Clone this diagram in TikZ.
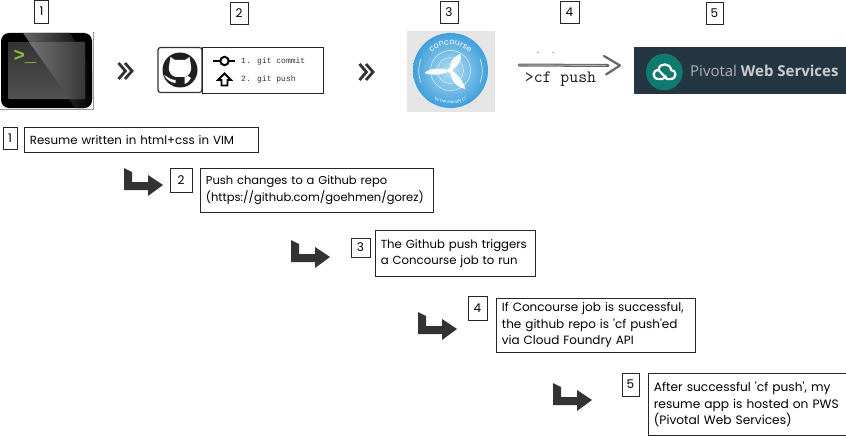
\documentclass[tikz,border=0pt]{standalone}
\usepackage{fontspec}
\setmainfont{Poppins}
\newfontfamily\monofont{Liberation Mono}
\newfontfamily\pwsfont{Open Sans}
\usetikzlibrary{decorations.text}
\definecolor{inkdark}{HTML}{333333}
\definecolor{pwsdark}{HTML}{243642}
\definecolor{pwsgreen}{HTML}{0F7B6E}
\definecolor{courseblue}{HTML}{3E9FDC}
\definecolor{coursepale}{HTML}{B5DDF2}
\definecolor{promptgreen}{HTML}{8CBF3F}
\tikzset{
  numbox/.style={draw=black!85,line width=0.8pt,inner sep=0pt,font=\fontsize{12}{13}\selectfont},
  textbox/.style={draw=black!85,line width=0.8pt,anchor=north west,align=left,inner xsep=5.5pt,inner ysep=0pt,font=\fontsize{#1}{16.5}\selectfont},
  blade/.style={fill=white,draw=none,opacity=0.92},
}
\newcommand{\bentarrow}[2]{
  \fill[inkdark,shift={(#1,#2)}] (0,0) -- (8,4) -- (8,14) -- (24,14) -- (24,7) -- (39,17) -- (24,28) -- (24,22) -- (0,22) -- cycle;
}
\newcommand{\dblchevron}[2]{
  \draw[inkdark,line width=2.8pt,shift={(#1,#2)}] (0,1) -- (7,9) -- (0,17) (6.5,1) -- (13.5,9) -- (6.5,17);
}
\begin{document}
\begin{tikzpicture}[x=1pt,y=-1pt]
  \useasboundingbox (0,0) rectangle (846,436);
  % top numbers
  \foreach \name/\cx/\cy/\w/\h/\num in {top1/41.5/11.5/14/23/1,top2/239/13/18/22/2,top3/449/12/18/22/3,top4/569.5/12/19/22/4,top5/714.5/13/17/22/5}
    \node[numbox,minimum width=\w pt,minimum height=\h pt] (\name) at (\cx,\cy) {\num};
  % terminal
  \draw[black!40,line width=0.5pt] (93,32) -- (93,109) -- (0,109);
  \fill[black,rounded corners=8pt] (1,33) rectangle (92,108);
  \begin{scope}
    \clip[rounded corners=8pt] (1,33) rectangle (92,108);
    \shade[left color=black!60,right color=black] (23,33) -- (70,33) -- (92,70) -- (92,108) -- (75,108) -- cycle;
  \end{scope}
  \shade[top color=black!80,bottom color=black!68,rounded corners=1pt] (8,42) rectangle (85,99);
  \shade[left color=black!55,right color=black!78] (29,42) -- (85,42) -- (85,99) -- (70,99) -- cycle;
  \node[text=promptgreen,inner sep=0pt,font=\monofont\bfseries\fontsize{19}{19}\selectfont] (prompt) at (25,57) {>\_};
  % chevrons
  \dblchevron{118.5}{62}
  \dblchevron{359.5}{63}
  % github box
  \node[draw=inkdark,line width=1.2pt,rounded corners=2.5pt,minimum width=44pt,minimum height=45pt,inner sep=0pt] (ghbox) at (180,70) {};
  \fill[black!88] (180,70) circle (17.5pt);
  \fill[white] (170.5,57) -- (175,60) -- (185,60) -- (189.5,57) -- (191,66) .. controls (192,73) and (188,76) .. (184.5,77) -- (175.5,77) .. controls (172,76) and (168,73) .. (169,66) -- cycle;
  \fill[white] (164,75) .. controls (166,79) and (171,83) .. (175.5,83) -- (175.5,80) .. controls (171,80) and (168,77) .. (164,75) -- cycle;
  \fill[white] (184.5,77) -- (184.5,84) .. controls (188,83) and (190,80) .. (191,78) -- (188,76) -- cycle;
  \node[draw=black!85,line width=0.8pt,minimum width=121pt,minimum height=46pt,inner sep=0pt] (gitbox) at (262.5,70) {};
  \draw[black,line width=2pt] (213,61) -- (220,61) (229,61) -- (235,61);
  \draw[black,line width=2pt] (224.5,61) circle (4.2pt);
  \draw[black,line width=1.8pt,line join=miter] (221.5,85.5) -- (221.5,80) -- (218,80) -- (224.5,73.5) -- (231,80) -- (227.5,80) -- (227.5,85.5) -- cycle;
  \node[anchor=west,inner sep=0pt,font=\monofont\fontsize{8}{8}\selectfont,text=black!80] (gitcommit) at (241,61) {1. git commit};
  \node[anchor=west,inner sep=0pt,font=\monofont\fontsize{8}{8}\selectfont,text=black!80] (gitpush) at (241,79) {2. git push};
  % concourse logo
  \fill[black!10] (407,31) rectangle (495,112);
  \shade[inner color=coursepale,outer color=courseblue] (450.5,70.5) circle (37.5pt);
  \draw[white,line width=0.5pt] (421,59) arc[start angle=158,end angle=202,radius=31.5pt];
  \draw[white,line width=0.5pt] (480,59) arc[start angle=22,end angle=-22,radius=31.5pt];
  \draw[white,line width=0.5pt,opacity=0.8] (450.5,70.5) circle (20pt);
  \draw[white,line width=0.5pt,opacity=0.7] (450.5,70.5) circle (13pt);
  \fill[blade] (450.5,70.5) .. controls (445,68) and (430,67) .. (424.5,73) .. controls (430,76) and (445,75) .. (450.5,70.5) -- cycle;
  \fill[blade] (450.5,70.5) .. controls (448,65) and (453,56) .. (460.5,54) .. controls (463,60) and (457,68) .. (450.5,70.5) -- cycle;
  \fill[blade] (450.5,70.5) .. controls (456,72) and (463,80) .. (465.5,89) .. controls (457,88) and (449,79) .. (450.5,70.5) -- cycle;
  \fill[white] (450.5,70.5) circle (2.8pt);
  \path[postaction={decorate,decoration={text along path,text align=center,text={|\fontsize{8}{8}\selectfont\color{white}|concourse}}}] (424.5,70.5) arc[start angle=180,end angle=0,radius=26pt];
  \path[postaction={decorate,decoration={text along path,text align=center,text={|\fontsize{4}{4}\selectfont\color{white}|by the friendly CI}}}] (417.5,70.5) arc[start angle=180,end angle=360,radius=33pt];
  % cf push arrow
  \coordinate (cfstart) at (519,65);
  \coordinate (cfend) at (620,65.5);
  \draw[black!60,line width=3pt,line cap=round] (cfstart) -- (608,65.5);
  \draw[black!30,line width=0.9pt] (cfstart) -- (606,65.5);
  \draw[black!60,line width=2.2pt,line join=round,line cap=round] (604,56) -- (cfend) -- (606,74.5);
  \fill[black!45] (537,52) rectangle (539,52.7) (552,52) rectangle (554,52.7);
  \node[inner sep=0pt,font=\ttfamily\fontsize{17.3}{17}\selectfont,text=black!90] (cfpush) at (560.5,79.5) {>cf push};
  % pws banner
  \node[fill=pwsdark,minimum width=212pt,minimum height=47pt,inner sep=0pt] (pwsbanner) at (740,70.5) {};
  \fill[pwsgreen] (664.3,72) circle (18.3pt);
  \draw[white,line width=2.2pt,line join=round] (663,79) -- (658.5,79) .. controls (652,79) and (652,70) .. (658.5,70) -- (667,79) -- (670.5,79) .. controls (677,79) and (677,70) .. (671,70) .. controls (671,63) and (659,62) .. (658.5,70);
  \draw[white,line width=2.2pt] (663,79) -- (666,75.5);
  \node[anchor=west,inner sep=0pt,text=black!20,font=\pwsfont\fontsize{15}{15}\selectfont] (pwstext) at (690,71) {\textcolor{black!30}{Pivotal} \textbf{Web Services}};
  % steps
  \node[numbox,minimum width=14pt,minimum height=22pt] (num1) at (10,138) {1};
  \node[textbox=11.8,text width=223pt,minimum height=25pt] (text1) at (24,127) {Resume written in html+css in VIM};
  \node[numbox,minimum width=22pt,minimum height=24pt] (num2) at (181,180) {2};
  \node[textbox=11.5,text width=222pt,minimum height=44pt] (text2) at (200,168) {Push changes to a Github repo\\(https://github.com/goehmen/gorez)};
  \node[numbox,minimum width=19pt,minimum height=19pt] (num3) at (360.5,247.5) {3};
  \node[textbox=11.7,text width=149pt,minimum height=46pt] (text3) at (375,230) {The Github push triggers\\a Concourse job to run};
  \node[numbox,minimum width=19pt,minimum height=24pt] (num4) at (477.5,308) {4};
  \node[textbox=12,text width=188pt,minimum height=54pt] (text4) at (496,298) {If Concourse job is successful,\\the github repo is \textquotesingle cf push\textquotesingle ed\\via Cloud Foundry API};
  \node[numbox,minimum width=17pt,minimum height=23pt] (num5) at (630.5,384.5) {5};
  \node[textbox=12.2,text width=187pt,minimum height=62pt] (text5) at (648,373) {After successful \textquotesingle cf push\textquotesingle , my\\resume app is hosted on PWS\\(Pivotal Web Services)};
  % bent arrows
  \foreach \ax/\ay in {124/168,291/240,418/312,553/383}
    {\bentarrow{\ax}{\ay}}
\end{tikzpicture}
\end{document}
